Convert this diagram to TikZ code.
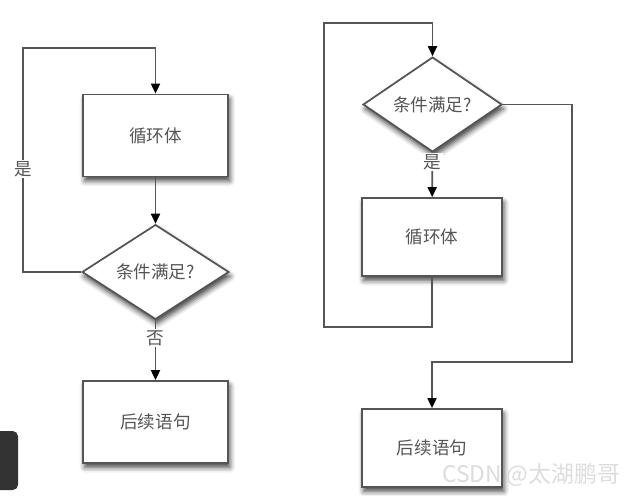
\documentclass[tikz,border=0pt]{standalone}
\usepackage{fontspec}
\setmainfont{Noto Sans CJK SC}
\usepackage{xcolor}
\usepackage{tikz}
\usetikzlibrary{arrows.meta,positioning,calc,shapes.geometric,shadows.blur}
\definecolor{lineC}{HTML}{555555}
\definecolor{textC}{HTML}{555555}
\definecolor{markC}{HTML}{DCDCDC}

\begin{document}
\begin{tikzpicture}[x=0.02cm,y=-0.02cm,
  font=\fontsize{10}{12}\selectfont,
  box/.style={draw=lineC,line width=1pt,fill=white,text=textC,minimum width=2.9cm,minimum height=1.64cm,inner sep=0pt,
    blur shadow={shadow xshift=1pt,shadow yshift=-2.5pt,shadow blur radius=3pt,shadow opacity=75}},
  cond/.style={diamond,draw=lineC,line width=1pt,fill=white,text=textC,inner sep=0pt,
    blur shadow={shadow xshift=1pt,shadow yshift=-2.5pt,shadow blur radius=3pt,shadow opacity=75}},
  flow/.style={draw=lineC,line width=1pt},
  go/.style={flow,-{Triangle[length=0.2cm,width=0.18cm,black]}},
  tag/.style={fill=white,text=textC,inner sep=1pt}]
  \useasboundingbox (0,0) rectangle (631,496);
  % left: do ... while
  \node[box] (body1) at (155.5,135.5) {循环体};
  \node[cond,minimum width=2.94cm,minimum height=1.6cm] (cond1) at (155.5,272) {条件满足?};
  \node[box] (next1) at (155.5,422) {后续语句};
  \coordinate (up1) at (23,48);
  \draw[go] (cond1.west) -- (cond1.west -| up1) -- (up1) -| (body1.north);
  \draw[go] (body1) -- (cond1);
  \draw[go] (cond1) -- (next1);
  \node[tag] (yes1) at (23,169) {是};
  \node[tag] (no1) at (155.5,338) {否};
  % right: while
  \node[cond,minimum width=2.78cm,minimum height=1.54cm] (cond2) at (432.5,104.5) {条件满足?};
  \node[box,minimum width=2.8cm,minimum height=1.56cm] (body2) at (432,237) {循环体};
  \node[box,minimum width=2.8cm,minimum height=1.56cm] (next2) at (432,448) {后续语句};
  \coordinate (up2) at (324,23);
  \coordinate (back2) at (324,327);
  \coordinate (out2) at (572,362);
  \draw[go] (cond2) -- (body2);
  \draw[go] (body2.south) |- (back2) -- (up2) -| (cond2.north);
  \draw[go] (cond2.east) -| (out2) -| (next2.north);
  \node[tag] (yes2) at (432.5,162) {是};
  % screen leftovers
  \fill[black!80,rounded corners=3pt] (-10,431) rectangle (18,490);
  \node[text=markC,font=\fontsize{13}{15}\selectfont] (mark) at (531,475) {CSDN @太湖鹏哥};
\end{tikzpicture}
\end{document}
